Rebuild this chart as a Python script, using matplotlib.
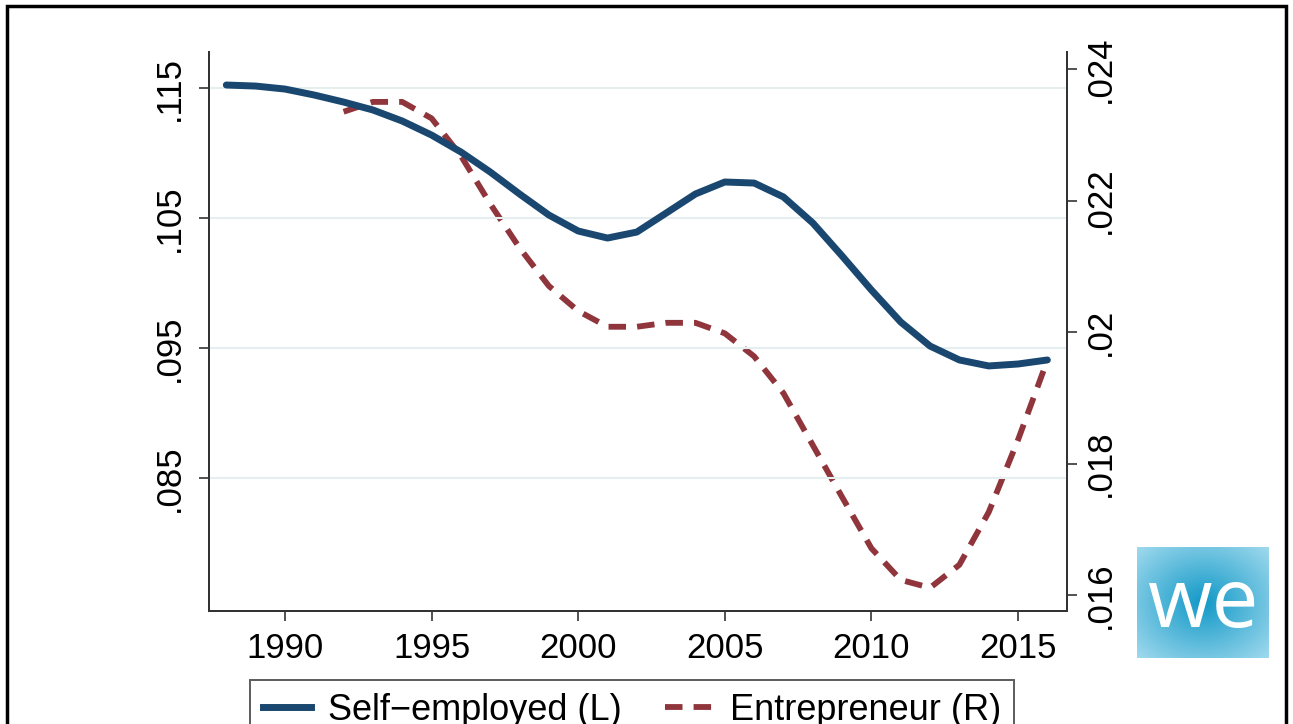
import numpy as np
import matplotlib.pyplot as plt
from matplotlib.patches import Rectangle
from matplotlib.lines import Line2D

plt.rcParams['font.family'] = ['Liberation Sans', 'DejaVu Sans']

# self-employed share (left axis)
years_se = list(range(1988, 2017))
self_employed = [0.11523, 0.11515, 0.11492, 0.11446, 0.11392, 0.11331, 0.11246,
                 0.11138, 0.11008, 0.10854, 0.10685, 0.10523, 0.10400, 0.10346,
                 0.10392, 0.10538, 0.10685, 0.10777, 0.10769, 0.10662, 0.10462,
                 0.10208, 0.09946, 0.09700, 0.09515, 0.09408, 0.09362, 0.09377,
                 0.09408]

# entrepreneur share (right axis)
years_en = list(range(1992, 2017))
entrepreneur = [0.02335, 0.02350, 0.02350, 0.02325, 0.02268, 0.02195, 0.02128,
                0.02070, 0.02032, 0.02008, 0.02008, 0.02014, 0.02014, 0.01998,
                0.01963, 0.01907, 0.01828, 0.01749, 0.01671, 0.01623, 0.01611,
                0.01646, 0.01726, 0.01836, 0.01957]

xticks = [1990, 1995, 2000, 2005, 2010, 2015]
lticks = [0.085, 0.095, 0.105, 0.115]
lticklabels = ['.085', '.095', '.105', '.115']
rticks = [0.016, 0.018, 0.02, 0.022, 0.024]
rticklabels = ['.016', '.018', '.02', '.022', '.024']

BLUE = '#1a476f'
RED = '#90353b'
AXC = '#333333'
W, H = 1293, 724

fig = plt.figure(figsize=(W / 100, H / 100), dpi=100)
ax = fig.add_axes([209 / W, 1 - 611 / H, (1067 - 209) / W, (611 - 52) / H])
ax2 = ax.twinx()

ax.set_zorder(ax2.get_zorder() + 1)
ax.patch.set_visible(False)

for t in lticks:
    ax.axhline(t, color='#e6eef0', lw=1.5, zorder=0)

ax.plot(years_se, self_employed, color=BLUE, lw=5, solid_capstyle='round',
        solid_joinstyle='round', zorder=3)
ax2.plot(years_en, entrepreneur, color=RED, lw=4.2, dashes=(3.0, 1.9), zorder=2)

ax.set_xlim(1987.41, 2016.67)
ax.set_ylim(0.07477, 0.11777)
ax2.set_ylim(0.015757, 0.024259)

ax.set_xticks(xticks)
ax.set_yticks(lticks)
ax.set_yticklabels(lticklabels, rotation=90, va='center')
ax2.set_yticks(rticks)
ax2.set_yticklabels(rticklabels, rotation=90, va='center')

for a in (ax, ax2):
    a.spines['top'].set_visible(False)
    for s in ('left', 'right', 'bottom'):
        a.spines[s].set_color(AXC)
        a.spines[s].set_linewidth(1.4)
    a.tick_params(colors=AXC, labelcolor='black', width=1.2, length=7, labelsize=25)
ax.tick_params(axis='y', pad=10)
ax.tick_params(axis='x', pad=8)
ax2.tick_params(axis='y', pad=5)

handles = [Line2D([], [], color=BLUE, lw=5),
           Line2D([], [], color=RED, lw=4.2, dashes=(3.0, 1.9))]
leg = fig.legend(handles, ['Self\u2212employed (L)', 'Entrepreneur (R)'],
                 loc='upper left', bbox_to_anchor=(250 / W, 1 - 680 / H),
                 ncol=2, fontsize=26, frameon=True, fancybox=False,
                 edgecolor='#333333', borderaxespad=0, handlelength=1.33,
                 handletextpad=0.47, columnspacing=1.2, borderpad=0.35)
leg.get_frame().set_linewidth(1.4)

# outer border
fig.patches.append(Rectangle((7 / W, -0.2), (1286 - 7) / W, 1.2 - 6 / H,
                             transform=fig.transFigure, fill=False,
                             edgecolor='black', lw=2.5))

# logo
lax = fig.add_axes([1137 / W, 1 - 658 / H, (1269 - 1137) / W, (658 - 547) / H])
gx, gy = np.meshgrid(np.linspace(-1, 1, 120), np.linspace(-1, 1, 100))
r = np.clip(np.sqrt(gx ** 2 + gy ** 2) / 1.4, 0, 1)
c0 = np.array([0.07, 0.60, 0.78])
c1 = np.array([0.62, 0.85, 0.93])
img = c0[None, None, :] * (1 - r[..., None]) + c1[None, None, :] * r[..., None]
lax.imshow(img, extent=(0, 1, 0, 1), aspect='auto')
lax.text(0.5, 0.47, 'we', color='white', fontsize=60, ha='center', va='center',
         family=['Open Sans', 'DejaVu Sans'])
lax.axis('off')

fig.savefig('out.png', dpi=100)
